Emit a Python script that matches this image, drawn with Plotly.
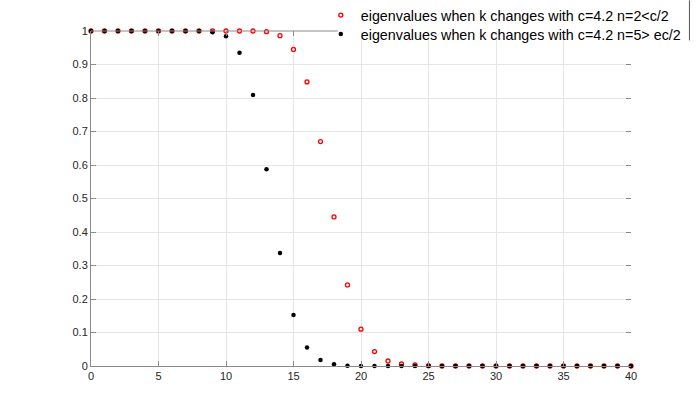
import plotly.graph_objects as go

k_values = list(range(41))
eig_n2 = [1, 1, 1, 1, 1, 1, 1, 1, 1, 1, 1, 1, 1, 0.998, 0.986, 0.945, 0.848, 0.670, 0.445,
          0.242, 0.110, 0.043, 0.015, 0.006, 0.003, 0.001, 0, 0, 0, 0, 0, 0, 0, 0, 0, 0,
          0, 0, 0, 0, 0]
eig_n5 = [1, 1, 1, 1, 1, 1, 1, 1, 1, 0.996, 0.984, 0.935, 0.809, 0.587, 0.337, 0.152, 0.055,
          0.018, 0.005, 0.001, 0, 0, 0, 0, 0, 0, 0, 0, 0, 0, 0, 0, 0, 0, 0, 0,
          0, 0, 0, 0, 0]
name_n2 = "eigenvalues when k changes with c=4.2 n=2<c/2"
name_n5 = "eigenvalues when k changes with c=4.2 n=5> ec/2"
x_ticks = [0, 5, 10, 15, 20, 25, 30, 35, 40]
x_ticks_top_visible = [0, 5, 10, 15]
y_ticks = [0, 0.1, 0.2, 0.3, 0.4, 0.5, 0.6, 0.7, 0.8, 0.9, 1]
y_tick_text = ["0", "0.1", "0.2", "0.3", "0.4", "0.5", "0.6", "0.7", "0.8", "0.9", "1"]

W, H = 698, 411
L, R, T, B = 91, 66.5, 30.7, 45.3
pw = W - L - R
ph = H - T - B

def px_to_paper_y(p):
    return (H - B - p) / ph

def px_to_paper_x(p):
    return (p - L) / pw

axis_col = "#8a8a8a"
grid_col = "#e6e6e6"
font_fam = "Liberation Sans, Arial, Helvetica, sans-serif"

fig = go.Figure()
fig.add_trace(go.Scatter(
    x=k_values, y=eig_n2, mode="markers", name=name_n2, cliponaxis=False, legend="legend",
    marker=dict(symbol="circle-open", size=4, color="#ff0000", line=dict(width=1.3, color="#ff0000")),
))
fig.add_trace(go.Scatter(
    x=k_values, y=eig_n5, mode="markers", name=name_n5, cliponaxis=False, legend="legend2",
    marker=dict(symbol="circle", size=4.5, color="#000000", line=dict(width=0)),
))
# invisible trace for the top and right tick axes
fig.add_trace(go.Scatter(x=[None], y=[None], xaxis="x2", yaxis="y2", showlegend=False, hoverinfo="skip"))

leg_font = dict(family=font_fam, size=14.3, color="#000000")
fig.update_layout(
    width=W, height=H,
    margin=dict(l=L, r=R, t=T, b=B, pad=0, autoexpand=False),
    paper_bgcolor="white", plot_bgcolor="white",
    font=dict(family=font_fam, size=11, color="#262626"),
    showlegend=True,
    legend=dict(
        x=px_to_paper_x(321), y=px_to_paper_y(-1), xanchor="left", yanchor="top",
        bgcolor="rgba(0,0,0,0)", borderwidth=0, itemwidth=30, font=leg_font,
    ),
    legend2=dict(
        x=px_to_paper_x(321), y=px_to_paper_y(18), xanchor="left", yanchor="top",
        bgcolor="rgba(0,0,0,0)", borderwidth=0, itemwidth=30, font=leg_font,
    ),
    xaxis=dict(
        range=[0, 40], tickvals=x_ticks, ticks="inside", ticklen=5, tickcolor=axis_col,
        showline=True, linecolor=axis_col, linewidth=1, mirror=False,
        showgrid=True, gridcolor=grid_col, gridwidth=1, zeroline=False,
        tickfont=dict(size=11, color="#262626"),
    ),
    xaxis2=dict(
        range=[0, 40], tickvals=x_ticks_top_visible, overlaying="x", side="top", ticks="inside",
        ticklen=5, tickcolor=axis_col, showticklabels=False, showline=False, showgrid=False,
        zeroline=False,
    ),
    yaxis=dict(
        range=[0, 1], tickvals=y_ticks, ticktext=y_tick_text, ticks="inside", ticklen=5,
        tickcolor=axis_col, showline=True, linecolor=axis_col, linewidth=1, mirror=False,
        showgrid=True, gridcolor=grid_col, gridwidth=1, zeroline=False,
        tickfont=dict(size=11, color="#262626"),
    ),
    yaxis2=dict(
        range=[0, 1], tickvals=y_ticks, overlaying="y", side="right", ticks="inside", ticklen=5,
        tickcolor=axis_col, showticklabels=False, showline=False, showgrid=False, zeroline=False,
    ),
    shapes=[
        # top box edge, hidden behind the legend box from x≈338 px on
        dict(type="line", xref="paper", yref="paper", x0=0, x1=px_to_paper_x(338), y0=1, y1=1,
             line=dict(color=axis_col, width=1)),
        # right edge of legend box
        dict(type="line", xref="paper", yref="paper",
             x0=px_to_paper_x(690), x1=px_to_paper_x(690),
             y0=px_to_paper_y(40), y1=px_to_paper_y(0),
             line=dict(color="#555555", width=1)),
    ],
)

fig.write_html("out.html", config={"displayModeBar": False},
               post_script="document.body.style.margin='0';")
